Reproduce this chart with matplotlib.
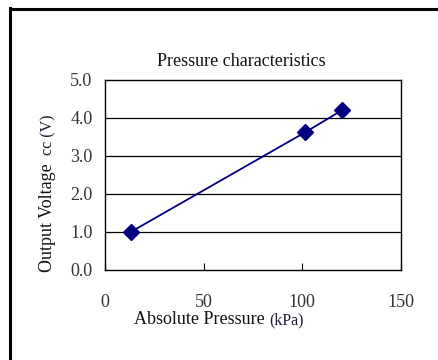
import matplotlib
matplotlib.use("Agg")
import matplotlib.pyplot as plt
from matplotlib.lines import Line2D

pressure = [13, 101.3, 120]
voltage = [1.0, 3.62, 4.2]
xticks = [0, 50, 100, 150]
yticks = [0.0, 1.0, 2.0, 3.0, 4.0, 5.0]

plt.rcParams['font.family'] = ['Liberation Serif', 'DejaVu Serif']

fig = plt.figure(figsize=(4.38, 3.6), dpi=100)
# outer frame (only left and top edges visible)
fig.add_artist(Line2D([10/438, 10/438], [0, 1 - 8/360], color='black', lw=2.2,
                      transform=fig.transFigure))
fig.add_artist(Line2D([10/438, 1], [1 - 9/360, 1 - 9/360], color='black', lw=2.2,
                      transform=fig.transFigure))

ax = fig.add_axes([105/438, 90/360, 296/438, 190/360])
ax.plot(pressure, voltage, color='#000080', lw=1.3, marker='D', ms=8.5,
        markerfacecolor='#000080', markeredgecolor='#000080')

ax.set_xlim(0, 150)
ax.set_ylim(0, 5)
ax.set_xticks(xticks)
ax.set_yticks(yticks)
ax.set_yticklabels(["%.1f" % v for v in yticks])
ax.set_xticklabels([str(v) for v in xticks])
for y in yticks[1:-1]:
    ax.axhline(y, color='black', lw=0.9, zorder=0)

ax.tick_params(axis='x', direction='in', length=5, pad=17, labelsize=13,
               labelcolor='#333333', color='black')
ax.tick_params(axis='y', length=0, pad=9, labelsize=13, labelcolor='#333333')
for s in ax.spines.values():
    s.set_linewidth(1.0)
    s.set_color('black')

fig.text(241/438, 1 - 62/360, "Pressure characteristics", ha='center', va='center',
         fontsize=13, color='#111111')

# x label: main part plus smaller unit
xl = fig.text(134/438, 1 - 320/360, "Absolute Pressure", ha='left', va='center',
              fontsize=13, color='#111111')
ax.annotate("(kPa)", xy=(1, 0.5), xycoords=xl, xytext=(3, 0),
            textcoords='offset points', ha='left', va='center',
            fontsize=11.5, color='#1a1a33', annotation_clip=False)

# y label: main part plus smaller unit
yl = fig.text(48/438, 1 - 272/360, "Output Voltage", ha='center', va='bottom',
              fontsize=13, rotation=90, color='#111111')
ax.annotate("cc (V)", xy=(0.5, 1), xycoords=yl, xytext=(0, 6),
            textcoords='offset points', ha='center', va='bottom',
            fontsize=11.5, rotation=90, color='#1a1a33', annotation_clip=False)

fig.savefig("out.png", dpi=100, facecolor='white')
